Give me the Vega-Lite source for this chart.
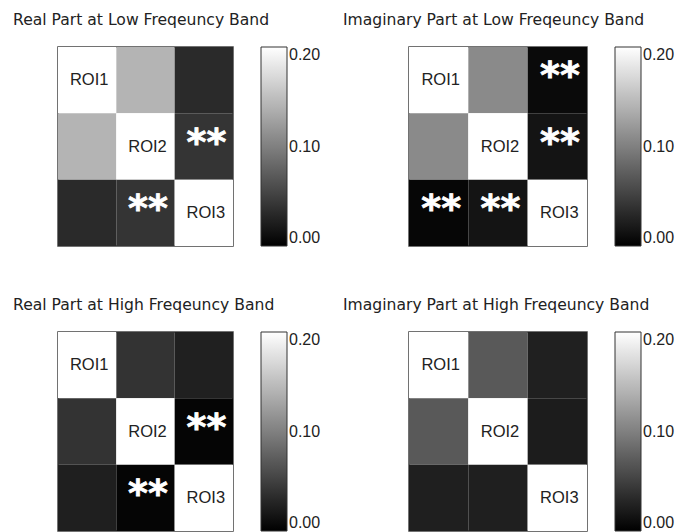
{
  "$schema": "https://vega.github.io/schema/vega-lite/v6.json",
  "padding": {"left": 12, "top": 12, "right": 0, "bottom": 0},
  "background": "white",
  "data": {"values": [
    {"panel": "A", "row": 1, "col": 1, "value": 0.2, "label": "ROI1", "sig": ""},
    {"panel": "A", "row": 1, "col": 2, "value": 0.141, "label": "", "sig": ""},
    {"panel": "A", "row": 1, "col": 3, "value": 0.033, "label": "", "sig": ""},
    {"panel": "A", "row": 2, "col": 1, "value": 0.141, "label": "", "sig": ""},
    {"panel": "A", "row": 2, "col": 2, "value": 0.2, "label": "ROI2", "sig": ""},
    {"panel": "A", "row": 2, "col": 3, "value": 0.041, "label": "", "sig": "**"},
    {"panel": "A", "row": 3, "col": 1, "value": 0.033, "label": "", "sig": ""},
    {"panel": "A", "row": 3, "col": 2, "value": 0.041, "label": "", "sig": "**"},
    {"panel": "A", "row": 3, "col": 3, "value": 0.2, "label": "ROI3", "sig": ""},
    {"panel": "B", "row": 1, "col": 1, "value": 0.2, "label": "ROI1", "sig": ""},
    {"panel": "B", "row": 1, "col": 2, "value": 0.108, "label": "", "sig": ""},
    {"panel": "B", "row": 1, "col": 3, "value": 0.008, "label": "", "sig": "**"},
    {"panel": "B", "row": 2, "col": 1, "value": 0.108, "label": "", "sig": ""},
    {"panel": "B", "row": 2, "col": 2, "value": 0.2, "label": "ROI2", "sig": ""},
    {"panel": "B", "row": 2, "col": 3, "value": 0.016, "label": "", "sig": "**"},
    {"panel": "B", "row": 3, "col": 1, "value": 0.005, "label": "", "sig": "**"},
    {"panel": "B", "row": 3, "col": 2, "value": 0.016, "label": "", "sig": "**"},
    {"panel": "B", "row": 3, "col": 3, "value": 0.2, "label": "ROI3", "sig": ""},
    {"panel": "C", "row": 1, "col": 1, "value": 0.2, "label": "ROI1", "sig": ""},
    {"panel": "C", "row": 1, "col": 2, "value": 0.04, "label": "", "sig": ""},
    {"panel": "C", "row": 1, "col": 3, "value": 0.025, "label": "", "sig": ""},
    {"panel": "C", "row": 2, "col": 1, "value": 0.04, "label": "", "sig": ""},
    {"panel": "C", "row": 2, "col": 2, "value": 0.2, "label": "ROI2", "sig": ""},
    {"panel": "C", "row": 2, "col": 3, "value": 0.004, "label": "", "sig": "**"},
    {"panel": "C", "row": 3, "col": 1, "value": 0.024, "label": "", "sig": ""},
    {"panel": "C", "row": 3, "col": 2, "value": 0.004, "label": "", "sig": "**"},
    {"panel": "C", "row": 3, "col": 3, "value": 0.2, "label": "ROI3", "sig": ""},
    {"panel": "D", "row": 1, "col": 1, "value": 0.2, "label": "ROI1", "sig": ""},
    {"panel": "D", "row": 1, "col": 2, "value": 0.07, "label": "", "sig": ""},
    {"panel": "D", "row": 1, "col": 3, "value": 0.025, "label": "", "sig": ""},
    {"panel": "D", "row": 2, "col": 1, "value": 0.07, "label": "", "sig": ""},
    {"panel": "D", "row": 2, "col": 2, "value": 0.2, "label": "ROI2", "sig": ""},
    {"panel": "D", "row": 2, "col": 3, "value": 0.022, "label": "", "sig": ""},
    {"panel": "D", "row": 3, "col": 1, "value": 0.024, "label": "", "sig": ""},
    {"panel": "D", "row": 3, "col": 2, "value": 0.024, "label": "", "sig": ""},
    {"panel": "D", "row": 3, "col": 3, "value": 0.2, "label": "ROI3", "sig": ""}
  ]},
  "columns": 2,
  "spacing": {"column": 20, "row": 49},
  "resolve": {"scale": {"color": "independent"}, "legend": {"color": "independent"}},
  "concat": [
    {
      "title": {"text": "Real Part at Low Freqeuncy Band", "dx": -45},
      "width": 175, "height": 199,
      "transform": [{"filter": "datum.panel === 'A'"}],
      "encoding": {
        "x": {"field": "col", "type": "ordinal", "axis": null},
        "y": {"field": "row", "type": "ordinal", "axis": null}
      },
      "layer": [
        {"mark": {"type": "rect"}, "encoding": {"color": {"field": "value", "type": "quantitative", "scale": {"domain": [0, 0.2], "range": ["#000000", "#ffffff"], "interpolate": "rgb", "clamp": true}, "legend": {"values": [0, 0.1, 0.2], "format": ".2f"}}}},
        {"mark": {"type": "text", "font": "Liberation Sans", "fontSize": 16.5, "color": "#222222", "baseline": "middle", "dx": 2}, "encoding": {"text": {"field": "label"}}},
        {"transform": [{"filter": "datum.sig === '**'"}], "mark": {"type": "text", "text": "*", "font": "DejaVu Sans", "fontWeight": "bold", "fontSize": 38, "color": "#ffffff", "stroke": "#ffffff", "strokeWidth": 0.8, "baseline": "middle", "dx": -7.5, "dy": -3}, "encoding": {}},
        {"transform": [{"filter": "datum.sig === '**'"}], "mark": {"type": "text", "text": "*", "font": "DejaVu Sans", "fontWeight": "bold", "fontSize": 38, "color": "#ffffff", "stroke": "#ffffff", "strokeWidth": 0.8, "baseline": "middle", "dx": 12.5, "dy": -3}, "encoding": {}}
      ]
    },
    {
      "title": {"text": "Imaginary Part at Low Freqeuncy Band", "dx": -66},
      "width": 178, "height": 199,
      "transform": [{"filter": "datum.panel === 'B'"}],
      "encoding": {
        "x": {"field": "col", "type": "ordinal", "axis": null},
        "y": {"field": "row", "type": "ordinal", "axis": null}
      },
      "layer": [
        {"mark": {"type": "rect"}, "encoding": {"color": {"field": "value", "type": "quantitative", "scale": {"domain": [0, 0.2], "range": ["#000000", "#ffffff"], "interpolate": "rgb", "clamp": true}, "legend": {"values": [0, 0.1, 0.2], "format": ".2f"}}}},
        {"mark": {"type": "text", "font": "Liberation Sans", "fontSize": 16.5, "color": "#222222", "baseline": "middle", "dx": 2}, "encoding": {"text": {"field": "label"}}},
        {"transform": [{"filter": "datum.sig === '**'"}], "mark": {"type": "text", "text": "*", "font": "DejaVu Sans", "fontWeight": "bold", "fontSize": 38, "color": "#ffffff", "stroke": "#ffffff", "strokeWidth": 0.8, "baseline": "middle", "dx": -7.5, "dy": -3}, "encoding": {}},
        {"transform": [{"filter": "datum.sig === '**'"}], "mark": {"type": "text", "text": "*", "font": "DejaVu Sans", "fontWeight": "bold", "fontSize": 38, "color": "#ffffff", "stroke": "#ffffff", "strokeWidth": 0.8, "baseline": "middle", "dx": 12.5, "dy": -3}, "encoding": {}}
      ]
    },
    {
      "title": {"text": "Real Part at High Freqeuncy Band", "dx": -45},
      "width": 175, "height": 199,
      "transform": [{"filter": "datum.panel === 'C'"}],
      "encoding": {
        "x": {"field": "col", "type": "ordinal", "axis": null},
        "y": {"field": "row", "type": "ordinal", "axis": null}
      },
      "layer": [
        {"mark": {"type": "rect"}, "encoding": {"color": {"field": "value", "type": "quantitative", "scale": {"domain": [0, 0.2], "range": ["#000000", "#ffffff"], "interpolate": "rgb", "clamp": true}, "legend": {"values": [0, 0.1, 0.2], "format": ".2f"}}}},
        {"mark": {"type": "text", "font": "Liberation Sans", "fontSize": 16.5, "color": "#222222", "baseline": "middle", "dx": 2}, "encoding": {"text": {"field": "label"}}},
        {"transform": [{"filter": "datum.sig === '**'"}], "mark": {"type": "text", "text": "*", "font": "DejaVu Sans", "fontWeight": "bold", "fontSize": 38, "color": "#ffffff", "stroke": "#ffffff", "strokeWidth": 0.8, "baseline": "middle", "dx": -7.5, "dy": -3}, "encoding": {}},
        {"transform": [{"filter": "datum.sig === '**'"}], "mark": {"type": "text", "text": "*", "font": "DejaVu Sans", "fontWeight": "bold", "fontSize": 38, "color": "#ffffff", "stroke": "#ffffff", "strokeWidth": 0.8, "baseline": "middle", "dx": 12.5, "dy": -3}, "encoding": {}}
      ]
    },
    {
      "title": {"text": "Imaginary Part at High Freqeuncy Band", "dx": -66},
      "width": 178, "height": 199,
      "transform": [{"filter": "datum.panel === 'D'"}],
      "encoding": {
        "x": {"field": "col", "type": "ordinal", "axis": null},
        "y": {"field": "row", "type": "ordinal", "axis": null}
      },
      "layer": [
        {"mark": {"type": "rect"}, "encoding": {"color": {"field": "value", "type": "quantitative", "scale": {"domain": [0, 0.2], "range": ["#000000", "#ffffff"], "interpolate": "rgb", "clamp": true}, "legend": {"values": [0, 0.1, 0.2], "format": ".2f"}}}},
        {"mark": {"type": "text", "font": "Liberation Sans", "fontSize": 16.5, "color": "#222222", "baseline": "middle", "dx": 2}, "encoding": {"text": {"field": "label"}}}
      ]
    }
  ],
  "config": {
    "view": {"stroke": "#444444", "strokeWidth": 1.5},
    "title": {"anchor": "start", "offset": 18, "font": "DejaVu Sans", "fontSize": 15.6, "fontWeight": "normal", "color": "#222222"},
    "legend": {
      "title": null,
      "direction": "vertical",
      "orient": "right",
      "offset": 28,
      "padding": 0,
      "gradientLength": 199,
      "gradientThickness": 26,
      "gradientStrokeColor": "#333333",
      "gradientStrokeWidth": 1,
      "labelFont": "Liberation Sans",
      "labelFontSize": 16,
      "labelColor": "#222222",
      "labelOffset": 4,
      "labelBaseline": "middle",
      "labelOverlap": false
    }
  }
}
